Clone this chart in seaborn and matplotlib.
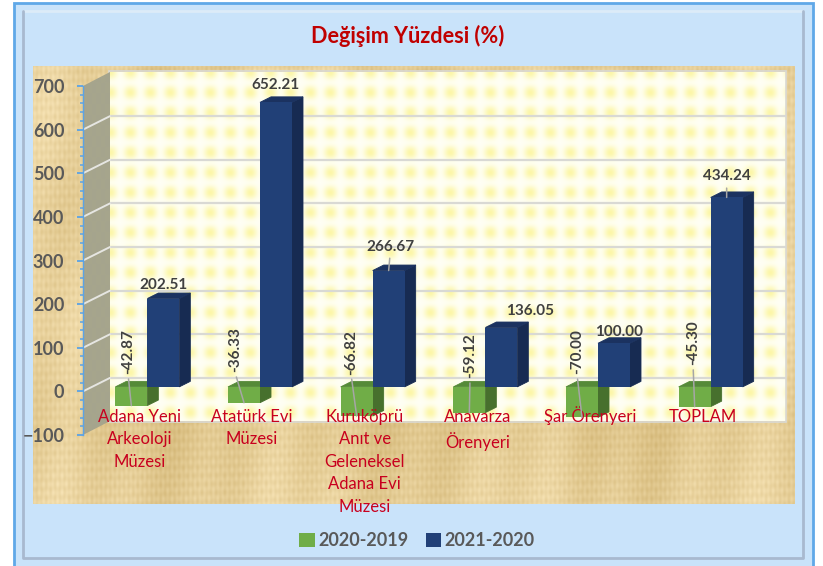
import matplotlib
matplotlib.use('Agg')
import matplotlib.pyplot as plt
from matplotlib.patches import Polygon, Rectangle
from matplotlib.ticker import MultipleLocator
import numpy as np
import pandas as pd
import seaborn as sns

# data
sites = ['Adana Yeni\nArkeoloji\nMüzesi', 'Atatürk Evi\nMüzesi',
         'Kuruköprü\nAnıt ve\nGeleneksel\nAdana Evi\nMüzesi',
         'Anavarza\nÖrenyeri', 'Şar Örenyeri', 'TOPLAM']
change_2020 = [-42.87, -36.33, -66.82, -59.12, -70.00, -45.30]
change_2021 = [202.51, 652.21, 266.67, 136.05, 100.00, 434.24]
periods = ['2020-2019', '2021-2020']
y_ticks = [-100, 0, 100, 200, 300, 400, 500, 600, 700]

df = pd.DataFrame({
    'site': sites * 2,
    'period': [periods[0]] * 6 + [periods[1]] * 6,
    'value': change_2020 + change_2021,
})

sns.set_theme(style='white')
plt.rcParams['font.family'] = ['Lato', 'DejaVu Sans']

W, H = 823, 566
fig = plt.figure(figsize=(W / 100, H / 100), dpi=100, facecolor='white')

# background in pixel coords
bg = fig.add_axes([0, 0, 1, 1])
bg.set_xlim(0, W)
bg.set_ylim(H, 0)
bg.axis('off')
bg.add_patch(Rectangle((14, 3), 799, 580, fc='#C9E3FA', ec='#5FA8E8', lw=2))
bg.plot([23, 803], [11, 11], color='#DCEBF8', lw=2)
bg.plot([23, 23, 803, 803], [11, 558, 558, 11], color='#A8B9CF', lw=2)


def parchment(w, h):
    xx, yy = np.meshgrid(np.arange(w), np.arange(h))
    v = (np.sin(xx * 0.83) * np.sin(yy * 0.41) * 0.3 + np.sin(xx * 0.09 + yy * 0.013) * 0.5
         + np.sin(xx * 0.027 + 1.0) * 0.6 + np.sin(yy * 0.031) * 0.35 + np.sin(xx * 1.37) * 0.35
         + np.sin(yy * 0.71 + xx * 0.02) * 0.3)
    img = np.zeros((h, w, 3))
    for i, (base, amp) in enumerate(zip((229, 205, 150), (8, 10, 14))):
        img[:, :, i] = (base + amp * v) / 255
    return img


def plaid(w, h):
    xx, yy = np.meshgrid(np.arange(w), np.arange(h))
    sx = 0.5 + 0.5 * np.cos(2 * np.pi * xx / 20)
    sy = 0.5 + 0.5 * np.cos(2 * np.pi * yy / 20)
    m = np.clip(sx * sy * 0.75 + 0.1 * (sx + sy), 0, 1)
    img = np.zeros((h, w, 3))
    for i, (a, b) in enumerate(zip((255, 255, 244), (252, 246, 165))):
        img[:, :, i] = (a + (b - a) * m) / 255
    return img


bg.imshow(parchment(762, 438), extent=(33, 795, 504, 66), aspect='auto', zorder=1,
          interpolation='bilinear')
bg.imshow(plaid(676, 349), extent=(110, 786, 421, 72), aspect='auto', zorder=2,
          interpolation='bilinear')
bg.add_patch(Rectangle((109, 71), 677, 351, fc='none', ec='#D9D9D4', lw=1.2, zorder=2.2))

# side wall, fine speckle over grey
sxx, syy = np.meshgrid(np.arange(60), np.arange(760))
speck = ((sxx + syy) % 2 == 0).astype(float)
side_img = np.zeros((760, 60, 3))
for i, (a, b) in enumerate(zip((160, 160, 154), (172, 170, 128))):
    side_img[:, :, i] = (a + (b - a) * speck) / 255
side = bg.imshow(side_img, extent=(83, 110, 435, 72), aspect='auto', zorder=2.5)
side_poly = Polygon([(83, 86), (110, 72), (110, 421), (83, 435)], closed=True,
                    transform=bg.transData)
side.set_clip_path(side_poly)
bg.set_xlim(0, W)
bg.set_ylim(H, 0)

# the 3d look: walls and bars are shifted in data units
ax = fig.add_axes([83 / W, 1 - 435 / H, 676 / W, 349 / H])
ax.set_facecolor('none')
px_x = 6 / 676
px_y = 800 / 349

sns.barplot(data=df, x='site', y='value', hue='period', order=sites, hue_order=periods,
            palette=['#70AD47', '#214077'], width=0.568, gap=0, saturation=1, ax=ax,
            linewidth=0, edgecolor='none')
ax.set_xlim(-0.5, 5.5)
ax.set_ylim(-100, 700)

wall_dx, wall_dy = 27 * px_x, 13.5 * px_y
ax.hlines(np.array(y_ticks[1:-1]) + wall_dy, -0.5 + wall_dx, 5.5 + wall_dx, color='#D9D9D4',
          lw=1.6, zorder=0.5, clip_on=False)
for t in y_ticks[1:-1]:
    ax.plot([-0.5, -0.5 + wall_dx], [t, t + wall_dy], color='#E6E6E2', lw=1.4, zorder=0.5,
            clip_on=False)

bar_dx, bar_dy = 8 * px_x, 4.5 * px_y
depth_x, depth_y = 11 * px_x, 5.5 * px_y
shades = {0: ('#47702D', '#558A38'), 1: ('#172B52', '#1B3260')}
anchors = {}
for k, container in enumerate(ax.containers):
    zb = 0.9 if k == 0 else 1.2
    for j, p in enumerate(container.patches):
        p.set_x(p.get_x() + bar_dx)
        p.set_y(bar_dy)
        p.set_zorder(zb)
        p.set_clip_on(False)
        x0, x1 = p.get_x(), p.get_x() + p.get_width()
        low = bar_dy + min(0, p.get_height())
        high = bar_dy + max(0, p.get_height())
        ax.add_patch(Polygon([(x1, low), (x1 + depth_x, low + depth_y),
                              (x1 + depth_x, high + depth_y), (x1, high)],
                             fc=shades[k][0], ec=shades[k][0], lw=0.6, zorder=zb - 0.05,
                             clip_on=False))
        ax.add_patch(Polygon([(x0, high), (x0 + depth_x, high + depth_y),
                              (x1 + depth_x, high + depth_y), (x1, high)],
                             fc=shades[k][1], ec=shades[k][1], lw=0.6, zorder=zb - 0.05,
                             clip_on=False))
        anchors[(k, j)] = ((x0 + x1) / 2, bar_dy + p.get_height())

# axes
sns.despine(ax=ax, left=False, bottom=True)
ax.spines['left'].set_color('#5BA3E6')
ax.spines['left'].set_linewidth(1.0)
ax.set_xlabel('')
ax.set_ylabel('')
ax.set_yticks(y_ticks)
ax.yaxis.set_minor_locator(MultipleLocator(20))
ax.tick_params(axis='y', which='major', left=True, length=4, width=1.3, color='#5BA3E6',
               labelsize=13, labelcolor='#595959', pad=9.5)
ax.tick_params(axis='y', which='minor', left=True, length=2.5, width=1.1, color='#5BA3E6')
for lab in ax.get_yticklabels():
    lab.set_fontweight('bold')
ax.set_xticks(range(6))
ax.set_xticklabels(sites, color='#C8001E', fontsize=12, linespacing=1.5)
ax.tick_params(axis='x', length=0, pad=-19)
for lab in ax.get_xticklabels():
    lab.set_zorder(5)
# the O with dots makes this one line sit lower
ax.get_xticklabels()[4].set_y(3 / 349)
ax.set_axisbelow(False)

# data labels, offsets in pixels from the bar end
off_2021 = [(0, 14), (0, 17.5), (1.5, 24), (28.5, 16.5), (5, 11.5), (0, 21)]
lead_2021 = [False, False, True, False, False, True]
off_2020 = [(-3.3, 53.7), (-9, 52.8), (-5.6, 64), (0.7, 56.8), (-5, 65.5), (-1.6, 63.8)]
for j in range(6):
    arrow = dict(arrowstyle='-', color='#A6A6A6', lw=1.1, shrinkA=1, shrinkB=0, relpos=(0.5, 0))
    ax.annotate(f'{change_2021[j]:.2f}', xy=anchors[(1, j)], xytext=off_2021[j],
                textcoords='offset pixels', ha='center', va='center', fontsize=11,
                fontweight='bold', color='#404040', zorder=6,
                arrowprops=arrow if lead_2021[j] else None, annotation_clip=False)
    ax.annotate(f'{change_2020[j]:.2f}', xy=anchors[(0, j)], xytext=off_2020[j],
                textcoords='offset pixels', ha='center', va='center', rotation=90, fontsize=11,
                fontweight='bold', color='#404040', zorder=4,
                arrowprops=arrow, annotation_clip=False)

# title and legend
fig.text(407.5 / W, 1 - 36 / H, 'Değişim Yüzdesi (%)', ha='center', va='center', fontsize=15.6,
         fontweight='bold', color='#C00000')
sns.move_legend(ax, 'center', bbox_to_anchor=(417 / W, 1 - 540.5 / H), bbox_transform=fig.transFigure,
                ncol=2, frameon=False, title=None, handlelength=0.85, handleheight=0.85,
                handletextpad=0.2, columnspacing=0.95, fontsize=13)
for txt in ax.get_legend().get_texts():
    txt.set_fontweight('bold')
    txt.set_color('#595959')

fig.savefig('out.png', dpi=100)
